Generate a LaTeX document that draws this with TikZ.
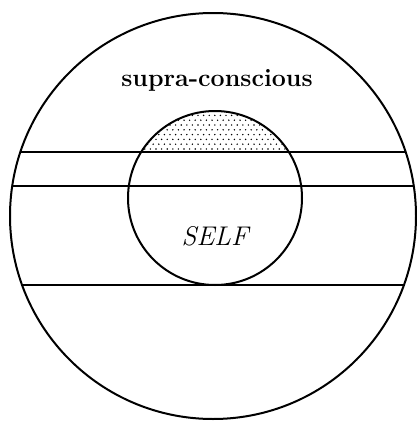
\documentclass[tikz,border=0pt]{standalone}
\usepackage{fontspec}

\begin{document}
\begin{tikzpicture}[
    x=1pt, y=-1pt,
    line width=2pt,
    every node/.style={inner sep=0pt}
]

% ============================================================
% Rahmen (417 x 423)
% ============================================================
\useasboundingbox (0,0) rectangle (417,423);

\def\R{203}
\def\r{87}

\coordinate (Outer) at (213,216);
\coordinate (Self) at (215,198);

% ============================================================
% Punktierte Kappe (oberhalb der ersten Linie, versetztes Raster)
% ============================================================
\begin{scope}
    \clip (0,0) rectangle (417,151);
    \clip (Self) circle (\r);
    \foreach \j in {0,...,8} {
        \foreach \i in {0,...,32} {
            \pgfmathsetmacro{\xx}{128 + 5.6*\i + 2.8*mod(\j,2)}
            \pgfmathsetmacro{\yy}{149 - 4.8*\j}
            \fill[black] (\xx,\yy) circle (0.8);
        }
    }
\end{scope}

% ============================================================
% Kreise
% ============================================================
\draw (Outer) circle (\R);
\draw (Self) circle (\r);

% ============================================================
% Waagrechte Linien (bis zum grossen Kreis)
% ============================================================
\begin{scope}
    \clip (Outer) circle (\R);
    \draw (0,152) -- (417,152);
    \draw (0,186) -- (417,186);
    \draw (0,285) -- (417,285);
\end{scope}

% ============================================================
% Beschriftung
% ============================================================
\node (supra) at (217,80)
    {\fontsize{25}{28}\selectfont\bfseries\addfontfeatures{LetterSpace=26}supra-conscious};
\node (selflabel) at (215,236)
    {\fontsize{27}{30}\selectfont\itshape SELF};

\end{tikzpicture}
\end{document}
